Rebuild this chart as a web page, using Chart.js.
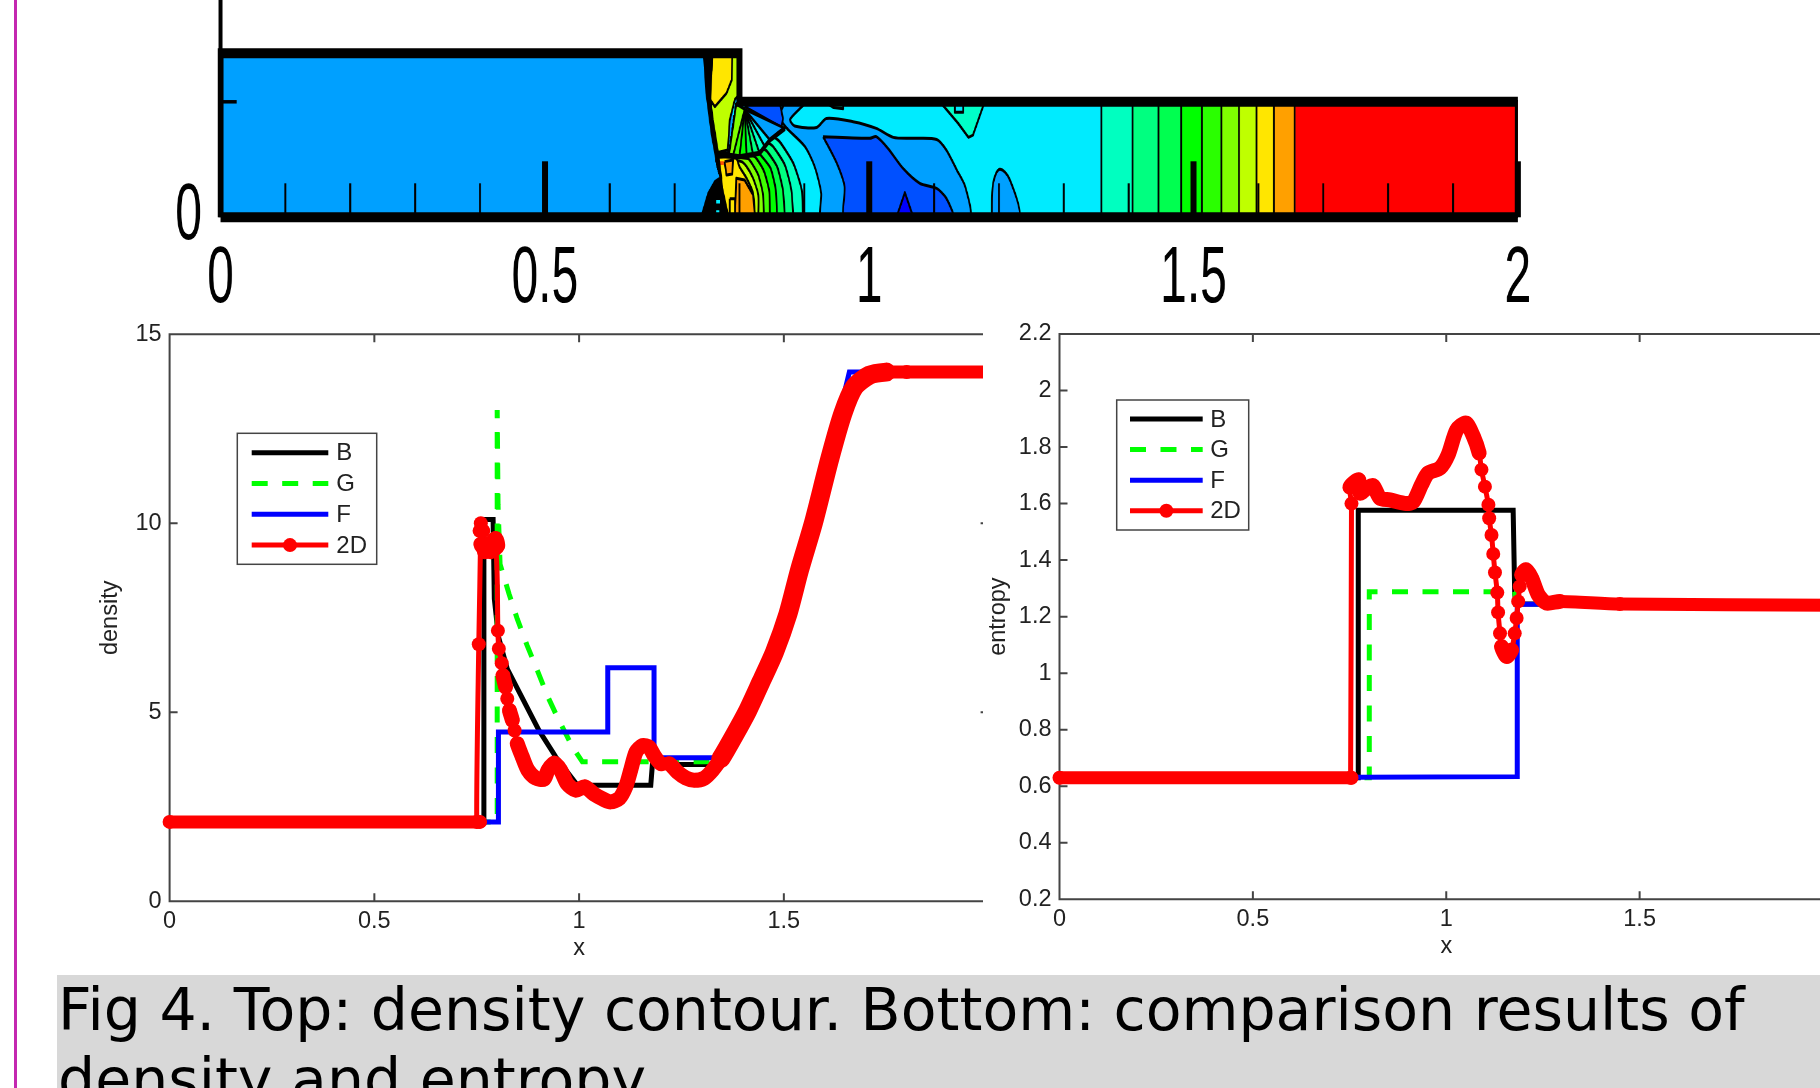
<!DOCTYPE html>
<html>
<head>
<meta charset="utf-8">
<title>Fig 4</title>
<script src="https://cdn.jsdelivr.net/npm/chart.js@4"></script>
<style>
  html, body { margin: 0; background: #fff; }
  body { position: relative; width: 1820px; height: 1088px; overflow: hidden; }
  #rule { position: absolute; left: 14px; top: 0; width: 3px; height: 1088px; background: #c428b0; }
  #contour { position: absolute; left: 0; top: -30px; transform-origin: 0 0; transform: scaleX(0.6); }
  .clip { position: absolute; top: 300px; height: 670px; overflow: hidden; }
  #caption {
    position: absolute; left: 57px; top: 975px; width: 1763px; height: 113px; overflow: hidden;
    background: #d8d8d8; color: #000; font: 58.5px/70px "DejaVu Sans"; padding-left: 1px; box-sizing: border-box; white-space: nowrap;
  }
</style>
</head>
<body>
<div id="rule"></div>
<canvas id="contour" width="3034" height="350"></canvas>
<div class="clip" style="left:0;width:983px"><canvas id="density" width="1040" height="670"></canvas></div>
<div class="clip" style="left:984px;width:836px"><canvas id="entropy" width="900" height="670"></canvas></div>
<div id="caption">Fig 4. Top: density contour. Bottom: comparison results of<br>density and entropy.</div>

<script>
// ---- density profile, bottom left ----
const densB_x = [0, 0.7675, 0.7675, 0.788, 0.79, 0.793, 0.803, 0.8246, 0.902, 0.943, 0.996, 1.175, 1.179, 1.326, 1.346, 1.444, 1.538, 1.612, 1.672, 1.75, 2];
const densB_y = [2.1, 2.1, 10.1, 10.1, 10.1, 8, 7, 6.15, 4.52, 3.82, 3.07, 3.07, 3.62, 3.62, 3.77, 5.8, 8.75, 11.7, 13.6, 14, 14];
const densG_x = [0, 0.8, 0.8, 0.802, 0.807, 0.829, 0.849, 0.873, 0.898, 0.922, 0.947, 0.984, 1.008, 1.314, 1.346, 1.444, 1.538, 1.612, 1.672, 1.75, 2];
const densG_y = [2.1, 2.1, 13, 10.5, 8.92, 8.13, 7.47, 6.77, 6.11, 5.45, 4.87, 4.08, 3.69, 3.69, 3.77, 5.8, 8.75, 11.7, 13.6, 14, 14];
const densF_x = [0, 0.803, 0.803, 1.07, 1.07, 1.183, 1.183, 1.326, 1.346, 1.444, 1.538, 1.62, 1.66, 2];
const densF_y = [2.1, 2.1, 4.48, 4.48, 6.18, 6.18, 3.8, 3.8, 3.8, 5.8, 8.8, 12.2, 14, 14];
const dens2D_x = [0, 0.758, 0.75, 0.755, 0.76, 0.757, 0.766, 0.76, 0.772, 0.784, 0.796, 0.801, 0.784, 0.769, 0.775, 0.796, 0.8017, 0.804, 0.811, 0.814, 0.8205, 0.8246, 0.83, 0.837, 0.8425, 0.849, 0.8613, 0.875, 0.894, 0.914, 0.924, 0.939, 0.955, 0.971, 0.992, 1.014, 1.037, 1.061, 1.077, 1.098, 1.114, 1.126, 1.139, 1.155, 1.171, 1.183, 1.2, 1.22, 1.24, 1.261, 1.281, 1.306, 1.326, 1.346, 1.379, 1.412, 1.444, 1.477, 1.51, 1.538, 1.572, 1.612, 1.644, 1.672, 1.709, 1.75, 1.8, 2];
const dens2D_y = [2.1, 2.1, 2.1, 6.8, 10, 9.8, 9.8, 9.45, 9.3, 9.45, 9.6, 9.4, 9.25, 9.25, 9.45, 9.4, 7.16, 6.68, 6.3, 5.97, 5.67, 5.36, 5.05, 4.79, 4.52, 4.17, 3.82, 3.47, 3.26, 3.23, 3.47, 3.66, 3.47, 3.11, 2.94, 3.03, 2.83, 2.69, 2.63, 2.72, 3.03, 3.47, 3.95, 4.12, 4.08, 3.86, 3.64, 3.64, 3.42, 3.26, 3.2, 3.26, 3.47, 3.77, 4.39, 5.05, 5.8, 6.59, 7.6, 8.75, 10, 11.7, 12.9, 13.6, 13.92, 14, 14, 14];

// ---- entropy profile, bottom right ----
const entB_x = [0, 0.7725, 0.7725, 1.173, 1.177, 1.18, 2];
const entB_y = [0.63, 0.63, 1.576, 1.576, 1.283, 1.245, 1.245];
const entG_x = [0, 0.801, 0.801, 1.177, 1.18, 2];
const entG_y = [0.63, 0.63, 1.288, 1.288, 1.245, 1.245];
const entF_x = [0, 0.7725, 1.1836, 1.1836, 2];
const entF_y = [0.63, 0.632, 0.634, 1.244, 1.244];
const ent2D_x = [0, 0.755, 0.7527, 0.755, 0.751, 0.774, 0.777, 0.798, 0.811, 0.829, 0.854, 0.897, 0.915, 0.936, 0.953, 0.984, 1.005, 1.027, 1.051, 1.07, 1.085, 1.091, 1.1, 1.109, 1.111, 1.117, 1.1215, 1.126, 1.132, 1.134, 1.139, 1.143, 1.156, 1.169, 1.177, 1.182, 1.186, 1.19, 1.195, 1.206, 1.221, 1.238, 1.259, 1.294, 1.449, 2];
const ent2D_y = [0.63, 0.63, 0.63, 1.6, 1.658, 1.684, 1.637, 1.658, 1.663, 1.619, 1.613, 1.6, 1.607, 1.667, 1.708, 1.726, 1.773, 1.861, 1.885, 1.838, 1.779, 1.72, 1.66, 1.596, 1.548, 1.489, 1.422, 1.356, 1.285, 1.215, 1.141, 1.094, 1.059, 1.082, 1.141, 1.195, 1.254, 1.307, 1.348, 1.366, 1.336, 1.277, 1.248, 1.254, 1.245, 1.24];

// ---- contour plot, [x, y] outlines ----
const duct = [[0, 0], [0, 0.71], [0.8, 0.71], [0.8, 0.5], [2, 0.5], [2, 0]];
const channel = [[0.79, 0], [0.79, 0.5], [2, 0.5], [2, 0]];
const columnEdges = [1.358, 1.406, 1.446, 1.481, 1.513, 1.543, 1.57, 1.597, 1.624, 1.656];
const columnColors = ['#00ffc0', '#00ff80', '#00ff50', '#00ff00', '#2aff00', '#7fff00', '#bfff00', '#ffe600', '#ffa000', '#ff5000'];
const regionB = [[0.87, 0.5], [0.902, 0.5], [0.878, 0.424], [0.885, 0.395], [0.919, 0.389], [0.934, 0.428], [0.975, 0.414], [1.011, 0.385], [1.037, 0.346], [1.068, 0.342], [1.104, 0.337], [1.119, 0.291], [1.135, 0.205], [1.148, 0.133], [1.155, 0], [0.926, 0], [0.926, 0.104], [0.916, 0.219], [0.901, 0.306], [0.872, 0.389], [0.862, 0.436]];
const regionC = [[0.808, 0.479], [0.824, 0.5], [0.862, 0.5], [0.867, 0.428], [0.865, 0.389]];
const regionD = [[0.929, 0.349], [1.001, 0.342], [1.011, 0.349], [1.029, 0.298], [1.052, 0.212], [1.078, 0.147], [1.104, 0.125], [1.119, 0.082], [1.129, 0], [0.962, 0], [0.962, 0.133], [0.95, 0.234]];
const regionE = [[1.042, 0], [1.055, 0.107], [1.068, 0]];
const bubble = [[1.189, 0], [1.191, 0.147], [1.201, 0.208], [1.217, 0.161], [1.231, 0]];
const patchTop = [[1.109, 0.5], [1.137, 0.407], [1.153, 0.346], [1.16, 0.356], [1.178, 0.5]];
const patchDot = [[1.132, 0.49], [1.132, 0.455], [1.145, 0.455], [1.145, 0.49]];
const patchSmall = [[0.932, 0.5], [0.945, 0.475], [0.96, 0.47], [0.96, 0.5]];
const arcs = [
  [[0.898, 0], [0.896, 0.118], [0.883, 0.234], [0.862, 0.327], [0.852, 0.346]],
  [[0.883, 0], [0.88, 0.118], [0.87, 0.226], [0.852, 0.306], [0.843, 0.323]],
  [[0.87, 0], [0.867, 0.118], [0.858, 0.219], [0.843, 0.284], [0.835, 0.299]],
  [[0.858, 0], [0.856, 0.118], [0.848, 0.212], [0.834, 0.265], [0.829, 0.28]],
  [[0.847, 0], [0.846, 0.111], [0.838, 0.198], [0.826, 0.255], [0.821, 0.265]],
  [[0.838, 0], [0.836, 0.104], [0.829, 0.183], [0.819, 0.234], [0.813, 0.255]],
  [[0.829, 0], [0.829, 0.097], [0.821, 0.169], [0.811, 0.219], [0.803, 0.241]],
  [[0.824, 0], [0.821, 0.104], [0.811, 0.169], [0.8, 0.219], [0.795, 0.255]]
];
const arcColors = ['#00ffc0', '#00ff80', '#00ff40', '#00ff00', '#40ff00', '#80ff00', '#c0ff00', '#ffe600'];
const arcClose = [[0.765, 0.255], [0.772, 0.16], [0.78, 0]];
const orangeCore = [[0.824, 0], [0.821, 0.097], [0.808, 0.161], [0.795, 0.169], [0.793, 0]];
const orangePatch = [[0.777, 0.241], [0.79, 0.248], [0.789, 0.187], [0.78, 0.183]];
const redPatch = [[0.767, 0.243], [0.776, 0.243], [0.776, 0.226], [0.767, 0.226]];
const fanApex = [0.808, 0.467];
const fanEdge = [0.795, 0.49];
const fanFront = [[0.87, 0.385], [0.858, 0.363], [0.847, 0.335], [0.839, 0.306], [0.831, 0.277], [0.821, 0.27], [0.811, 0.265], [0.8, 0.262], [0.79, 0.265], [0.784, 0.274]];
const fanStarts = [0, 2, 3, 4, 5, 6, 7, 8];
const fanColors = ['#00a0ff', '#00ebff', '#00ffc8', '#00ff80', '#00ff40', '#00ff00', '#40ff00', '#80ff00'];
const yellowGreen = [[0.755, 0.71], [0.8, 0.71], [0.8, 0.53], [0.793, 0.511], [0.785, 0.421], [0.782, 0.291], [0.765, 0.28], [0.757, 0.421]];
const yellowTop = [[0.758, 0.71], [0.789, 0.71], [0.788, 0.594], [0.78, 0.537], [0.762, 0.479], [0.755, 0.508], [0.754, 0.58], [0.757, 0.638]];
const shockWedge = [[0.745, 0.71], [0.749, 0.537], [0.757, 0.363], [0.7635, 0.262], [0.771, 0.169], [0.772, 0.169], [0.767, 0.28], [0.759, 0.421], [0.755, 0.508], [0.757, 0.638], [0.758, 0.71]];
const footLump = [[0.741, 0], [0.752, 0.104], [0.762, 0.154], [0.77, 0.169], [0.775, 0.104], [0.783, 0]];
const footYellow = [[0.785, 0.08], [0.793, 0.08], [0.793, 0], [0.785, 0]];
const footCyanA = [[0.764, 0.075], [0.77, 0.075], [0.77, 0.06], [0.764, 0.06]];
const footCyanB = [[0.764, 0.03], [0.769, 0.03], [0.769, 0], [0.764, 0]];
const frontLine = [[0.87, 0.385], [0.847, 0.335], [0.831, 0.277], [0.8, 0.262], [0.765, 0.277]];

const curveLabels = ['B', 'G', 'F', '2D'];
const curveColors = ['#000000', '#00ff00', '#0000ff', '#ff0000'];

Chart.defaults.font.family = '"Liberation Sans", Arial, sans-serif';
Chart.defaults.color = '#222';
Chart.defaults.animation = false;

const pairs = (xs, ys) => xs.map((x, i) => ({ x: x, y: ys[i] }));
const pts = list => list.map(p => ({ x: p[0], y: p[1] }));
// the plot areas have to land on fixed spots, so no room is reserved for half-labels
const noEdgePadding = s => { s.paddingTop = s.paddingBottom = s.paddingLeft = s.paddingRight = 0; };

// box and inward ticks like the matlab figures; drawn above the data only for the contour
function drawAxes(chart, o) {
  const { ctx, chartArea: a, scales: { x, y } } = chart;
  ctx.save();
  ctx.strokeStyle = o.color;
  ctx.lineWidth = o.lineWidth;
  ctx.beginPath();
  if (o.fullBox) {
    ctx.rect(a.left, a.top, a.right - a.left, a.bottom - a.top);
  } else {
    ctx.moveTo(a.left, a.top);
    ctx.lineTo(a.left, a.bottom);
  }
  ctx.stroke();
  x.ticks.forEach(t => {
    if (t.value === x.min) return;
    const q = t.value / o.xMajorStep;
    const major = Math.abs(q - Math.round(q)) < 1e-6;
    const px = x.getPixelForValue(t.value);
    const len = major ? o.xMajorLen : o.xMinorLen;
    ctx.lineWidth = major ? o.xMajorWidth : o.xMinorWidth;
    ctx.beginPath();
    ctx.moveTo(px, a.bottom);
    ctx.lineTo(px, a.bottom - len);
    if (o.fullBox) {
      ctx.moveTo(px, a.top);
      ctx.lineTo(px, a.top + len);
    }
    ctx.stroke();
  });
  ctx.lineWidth = o.yWidth;
  y.ticks.forEach(t => {
    if (t.value === y.min || t.value === y.max) return;
    const py = y.getPixelForValue(t.value);
    ctx.beginPath();
    ctx.moveTo(a.left, py);
    ctx.lineTo(a.left + o.yLen, py);
    if (o.fullBox) {
      ctx.moveTo(a.right, py);
      ctx.lineTo(a.right - o.yLen, py);
    }
    ctx.stroke();
  });
  ctx.restore();
}

const matlabAxes = {
  id: 'matlabAxes',
  beforeDatasetsDraw(chart, args, o) { if (!o.onTop) drawAxes(chart, o); },
  afterDatasetsDraw(chart, args, o) { if (o.onTop) drawAxes(chart, o); }
};

// legend box inside the plot, same look as the matlab one
const matlabLegend = {
  id: 'matlabLegend',
  afterDatasetsDraw(chart, args, o) {
    const ctx = chart.ctx;
    ctx.save();
    ctx.fillStyle = '#fff';
    ctx.strokeStyle = '#444';
    ctx.lineWidth = 1.5;
    ctx.fillRect(o.left, o.top, o.width, o.height);
    ctx.strokeRect(o.left, o.top, o.width, o.height);
    chart.data.datasets.forEach((ds, i) => {
      const rowY = o.top + o.firstRow + i * o.rowStep;
      ctx.strokeStyle = ds.borderColor;
      ctx.lineWidth = 5;
      ctx.setLineDash(ds.borderDash || []);
      ctx.beginPath();
      ctx.moveTo(o.left + o.lineFrom, rowY);
      ctx.lineTo(o.left + o.lineTo, rowY);
      ctx.stroke();
      ctx.setLineDash([]);
      if (ds.pointRadius) {
        ctx.fillStyle = ds.borderColor;
        ctx.beginPath();
        ctx.arc(o.left + (o.lineFrom + o.lineTo) / 2, rowY, 7, 0, Math.PI * 2);
        ctx.fill();
      }
      ctx.fillStyle = '#222';
      ctx.font = '24px "Liberation Sans"';
      ctx.textBaseline = 'middle';
      ctx.fillText(ds.label, o.left + o.textAt, rowY + 1);
    });
    ctx.restore();
  }
};

function curveDatasets(series, riseWidth) {
  return series.map((data, i) => {
    const ds = {
      label: curveLabels[i], data: data, borderColor: curveColors[i], backgroundColor: curveColors[i],
      borderWidth: 5, pointRadius: 0, tension: 0, clip: false, order: series.length - i, fill: false
    };
    if (curveLabels[i] === 'G') ds.borderDash = [16, 14.5];
    if (curveLabels[i] === '2D') {
      ds.pointRadius = 7;
      ds.pointBorderWidth = 0;
      ds.tension = 0.25;
      ds.borderJoinStyle = 'round';
      ds.borderCapStyle = 'round';
      // steep runs are a thin line with separate beads, elsewhere the markers merge into a fat band
      ds.segment = {
        borderWidth: c => {
          const dx = Math.abs(c.p1.x - c.p0.x), dy = Math.abs(c.p1.y - c.p0.y);
          if (dy > 4.5 * dx) return 5;
          if (dy < 0.1 * dx) return 13;
          return c.p0.parsed.x > 1.33 ? riseWidth : 15;
        }
      };
    }
    return ds;
  });
}

function profileChart(id, series, riseWidth, yOpts, leftW, bottomH, padding, yTitle, yTitlePad, xTitlePad, legend) {
  new Chart(document.getElementById(id), {
    type: 'line',
    data: { datasets: curveDatasets(series, riseWidth) },
    options: {
      responsive: false,
      layout: { padding: padding },
      scales: {
        x: {
          type: 'linear', min: 0, max: 2,
          grid: { display: false, drawTicks: false }, border: { display: false },
          ticks: { stepSize: 0.5, padding: 6.5, font: { size: 23.5 }, maxRotation: 0, autoSkip: false, callback: v => +v.toFixed(1) },
          title: { display: true, text: 'x', font: { size: 23.5 }, padding: { bottom: xTitlePad } },
          afterFit: s => { s.height = bottomH; noEdgePadding(s); }
        },
        y: {
          type: 'linear', min: yOpts.min, max: yOpts.max,
          grid: { display: false, drawTicks: false }, border: { display: false },
          ticks: { stepSize: yOpts.step, padding: 8, font: { size: 23.5 }, autoSkip: false, callback: v => +v.toFixed(1) },
          title: { display: true, text: yTitle, font: { size: 23.5 }, padding: { top: yTitlePad } },
          afterFit: s => { s.width = leftW; noEdgePadding(s); }
        }
      },
      plugins: {
        legend: { display: false },
        tooltip: { enabled: false },
        matlabAxes: {
          onTop: false, fullBox: true, color: '#444', lineWidth: 2, xMajorStep: 0.5,
          xMajorLen: 8, xMajorWidth: 2, xMinorLen: 8, xMinorWidth: 2, yLen: 8, yWidth: 2
        },
        matlabLegend: legend
      }
    },
    plugins: [matlabAxes, matlabLegend]
  });
}

profileChart('density',
  [pairs(densB_x, densB_y), pairs(densG_x, densG_y), pairs(densF_x, densF_y), pairs(dens2D_x, dens2D_y)], 19,
  { min: 0, max: 15, step: 5 }, 169.6, 68.7, { top: 34.3, right: 51.4 }, 'density', 96, 7,
  { left: 237.3, top: 133.3, width: 139.4, height: 131, firstRow: 19.4, rowStep: 30.8, lineFrom: 14.4, lineTo: 91, textAt: 99 });

profileChart('entropy',
  [pairs(entB_x, entB_y), pairs(entG_x, entG_y), pairs(entF_x, entF_y), pairs(ent2D_x, ent2D_y)], 15,
  { min: 0.2, max: 2.2, step: 0.2 }, 75.5, 70.7, { top: 34, right: 51 }, 'entropy', 0, 9,
  { left: 132.7, top: 100, width: 132, height: 130, firstRow: 19, rowStep: 30.6, lineFrom: 13.3, lineTo: 86, textAt: 93.5 });

// contour bands: later datasets paint over earlier ones
const layers = [];
function addPoly(list, color, line, tension) {
  const closed = list.concat([list[0]]);
  layers.push({
    data: pts(closed), backgroundColor: color, borderColor: '#000', borderWidth: line === undefined ? 3 : line,
    fill: 'shape', pointRadius: 0, tension: tension || 0, borderJoinStyle: 'round'
  });
}
addPoly(duct, '#00a0ff', 0);
addPoly(channel, '#00ebff', 0);
addPoly(regionB, '#00a0ff', 3, 0.25);
addPoly(regionC, '#0050ff');
addPoly(regionD, '#0050ff', 3, 0.25);
addPoly(regionE, '#0000ff');
addPoly(bubble, '#00a0ff', 3, 0.35);
addPoly(patchTop, '#00ffc8');
addPoly(patchDot, '#00ebff');
addPoly(patchSmall, '#00ffc8');
columnEdges.forEach((edge, i) => {
  addPoly([[edge, 0], [edge, 0.5], [2, 0.5], [2, 0]], columnColors[i]);
});
addPoly([[columnEdges[9] + 0.0015, 0], [columnEdges[9] + 0.0015, 0.5], [2, 0.5], [2, 0]], '#ff0000', 0);
arcs.forEach((arc, i) => addPoly(arc.concat(arcClose), arcColors[i], 3, 0.2));
addPoly(orangeCore, '#ffa000');
addPoly(orangePatch, '#ffa000');
addPoly(redPatch, '#ff5000', 0);
fanStarts.forEach((start, i) => {
  addPoly([fanApex].concat(fanFront.slice(start), [fanEdge]), fanColors[i]);
});
addPoly(yellowGreen, '#bfff00');
addPoly(yellowTop, '#ffe600');
addPoly(shockWedge, '#000', 3);
addPoly(footLump, '#000');
addPoly(footYellow, '#ffe600');
addPoly(footCyanA, '#00ebff', 0);
addPoly(footCyanB, '#00ebff', 0);
layers.push({ data: pts(frontLine), borderColor: '#000', borderWidth: 5, fill: false, pointRadius: 0, tension: 0, borderJoinStyle: 'round' });
// thick wall of the duct, only the right side stays thin
layers.push({
  data: pts(duct.concat([duct[0]])), borderColor: '#000', borderWidth: 10, fill: false, pointRadius: 0, tension: 0,
  borderJoinStyle: 'miter', clip: { left: 5, top: 8, right: 0, bottom: 8 }
});
layers.forEach((ds, i) => { ds.order = layers.length - i; });

new Chart(document.getElementById('contour'), {
  type: 'line',
  data: { datasets: layers },
  options: {
    responsive: false,
    layout: { padding: { top: 16.3, right: 504.2 } },
    scales: {
      x: {
        type: 'linear', min: 0, max: 2,
        grid: { display: false, drawTicks: false }, border: { display: false },
        ticks: {
          stepSize: 0.1, padding: 14.4, color: '#000', font: { size: 80 }, maxRotation: 0, autoSkip: false,
          callback: v => Math.abs(v * 2 - Math.round(v * 2)) < 1e-6 ? +v.toFixed(1) : ''
        },
        afterFit: s => { s.height = 102.7; noEdgePadding(s); }
      },
      y: {
        type: 'linear', min: 0, max: 1,
        grid: { display: false, drawTicks: false }, border: { display: false },
        ticks: { stepSize: 0.5, padding: 31, color: '#000', font: { size: 80 }, autoSkip: false, callback: v => v === 0 ? '0' : '' },
        afterFit: s => { s.width = 367.5; noEdgePadding(s); }
      }
    },
    plugins: {
      legend: { display: false },
      tooltip: { enabled: false },
      matlabAxes: {
        onTop: true, fullBox: false, color: '#000', lineWidth: 6.5, xMajorStep: 0.5,
        xMajorLen: 56, xMajorWidth: 10, xMinorLen: 34, xMinorWidth: 3.3, yLen: 27, yWidth: 3.5
      }
    }
  },
  plugins: [matlabAxes]
});
</script>
</body>
</html>
